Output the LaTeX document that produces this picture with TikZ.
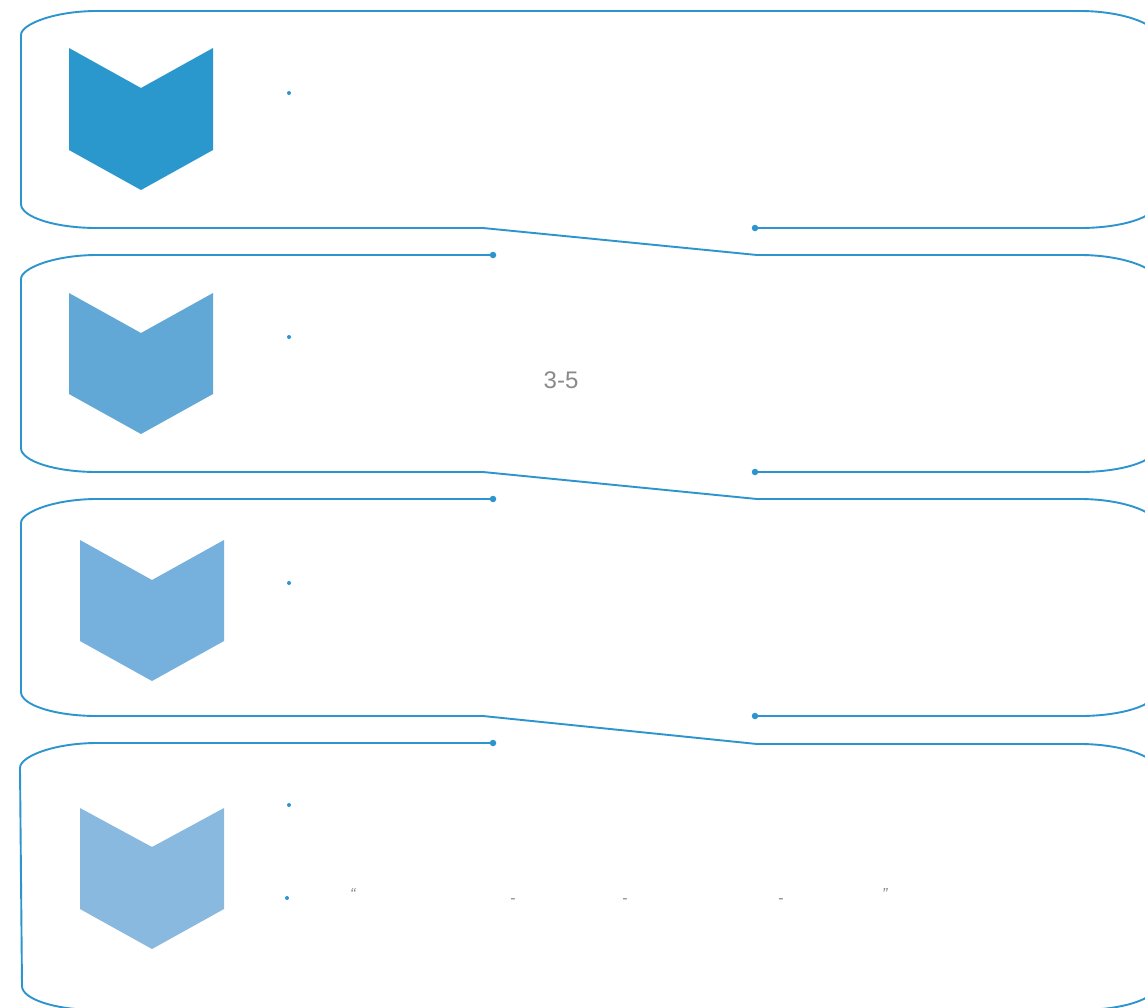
\documentclass[tikz,border=0pt]{standalone}
\usepackage{fontspec}
\setmainfont{Liberation Sans}
\definecolor{lineblue}{HTML}{2D95CD}
\definecolor{chevA}{HTML}{2A97CD}
\definecolor{chevB}{HTML}{62A8D6}
\definecolor{chevC}{HTML}{76B0DC}
\definecolor{chevD}{HTML}{8AB9DF}
\definecolor{txtgray}{HTML}{8A8A8A}
\begin{document}
\begin{tikzpicture}[x=1pt,y=-1pt,
  panel/.style={draw=lineblue,line width=1.9pt,line join=round},
  bullet/.style={circle,fill=lineblue,inner sep=0pt,minimum size=4pt},
  enddot/.style={circle,fill=lineblue,inner sep=0pt,minimum size=6.5pt},
  label/.style={text=txtgray,inner sep=0pt,font=\fontsize{16}{18}\selectfont}]
\useasboundingbox (0,0) rectangle (1145,1007);
\clip (0,0) rectangle (1145,1007);
\fill[white] (0,0) rectangle (1145,1007);

% end dots of the connectors
\node[enddot] (c1a) at (493,255) {};
\node[enddot] (c1b) at (755,228) {};
\node[enddot] (c2a) at (493,499) {};
\node[enddot] (c2b) at (755,472) {};
\node[enddot] (c3a) at (493,743) {};
\node[enddot] (c3b) at (755,716) {};

% panel 1 (full top) and the link into panel 2's right part
\draw[panel] (c1b.center) -- (1080,228) .. controls (1122,228) and (1156,217) .. (1156,204)
  -- (1156,35) .. controls (1156,24) and (1122,11) .. (1080,11)
  -- (97,11) .. controls (55,11) and (21,24) .. (21,35)
  -- (21,204) .. controls (21,217) and (55,228) .. (97,228)
  -- (483,228) -- (757,255)
  -- (1080,255) .. controls (1122,255) and (1156,268) .. (1156,279)
  -- (1156,448) .. controls (1156,461) and (1122,472) .. (1080,472) -- (c2b.center);
% panel 2 left part and link into panel 3
\draw[panel] (c1a.center) -- (97,255) .. controls (55,255) and (21,268) .. (21,279)
  -- (21,448) .. controls (21,461) and (55,472) .. (97,472)
  -- (483,472) -- (757,499)
  -- (1080,499) .. controls (1122,499) and (1156,512) .. (1156,523)
  -- (1156,692) .. controls (1156,705) and (1122,716) .. (1080,716) -- (c3b.center);
% panel 3 left part and link into panel 4
\draw[panel] (c2a.center) -- (97,499) .. controls (55,499) and (21,512) .. (21,523)
  -- (21,692) .. controls (21,705) and (55,716) .. (97,716)
  -- (483,716) -- (757,744)
  -- (1080,744) .. controls (1122,744) and (1156,757) .. (1156,768)
  -- (1156,986) .. controls (1156,999) and (1122,1010) .. (1080,1010);
% panel 4 left part
\draw[panel] (c3a.center) -- (97,743) .. controls (55,743) and (20,756) .. (20,768)
  -- (22,986) .. controls (22,999) and (55,1010) .. (97,1010) -- (1080,1010);

% chevrons
\fill[chevA] (69,48) -- (141,88) -- (213,48) -- (213,150) -- (141,190) -- (69,150) -- cycle;
\fill[chevB] (69,293) -- (141,333) -- (213,293) -- (213,394) -- (141,434) -- (69,394) -- cycle;
\fill[chevC] (80,540) -- (152,580) -- (224,540) -- (224,641) -- (152,681) -- (80,641) -- cycle;
\fill[chevD] (80,808) -- (152,847) -- (224,808) -- (224,909) -- (152,949) -- (80,909) -- cycle;

% bullets
\node[bullet] (b1) at (289,93) {};
\node[bullet] (b2) at (289,337) {};
\node[bullet] (b3) at (289,583) {};
\node[bullet] (b4) at (289,805) {};
\node[bullet] (b5) at (287,898) {};

% texts
\node[label,font=\fontsize{24}{26}\selectfont] (t35) at (561,380) {3-5};
\node[label] (q1) at (353,894) {\textit{“}};
\node[label] (h1) at (513,901) {-};
\node[label] (h2) at (625,901) {-};
\node[label] (h3) at (781,901) {-};
\node[label] (q2) at (885,894) {\textit{”}};
\end{tikzpicture}
\end{document}
